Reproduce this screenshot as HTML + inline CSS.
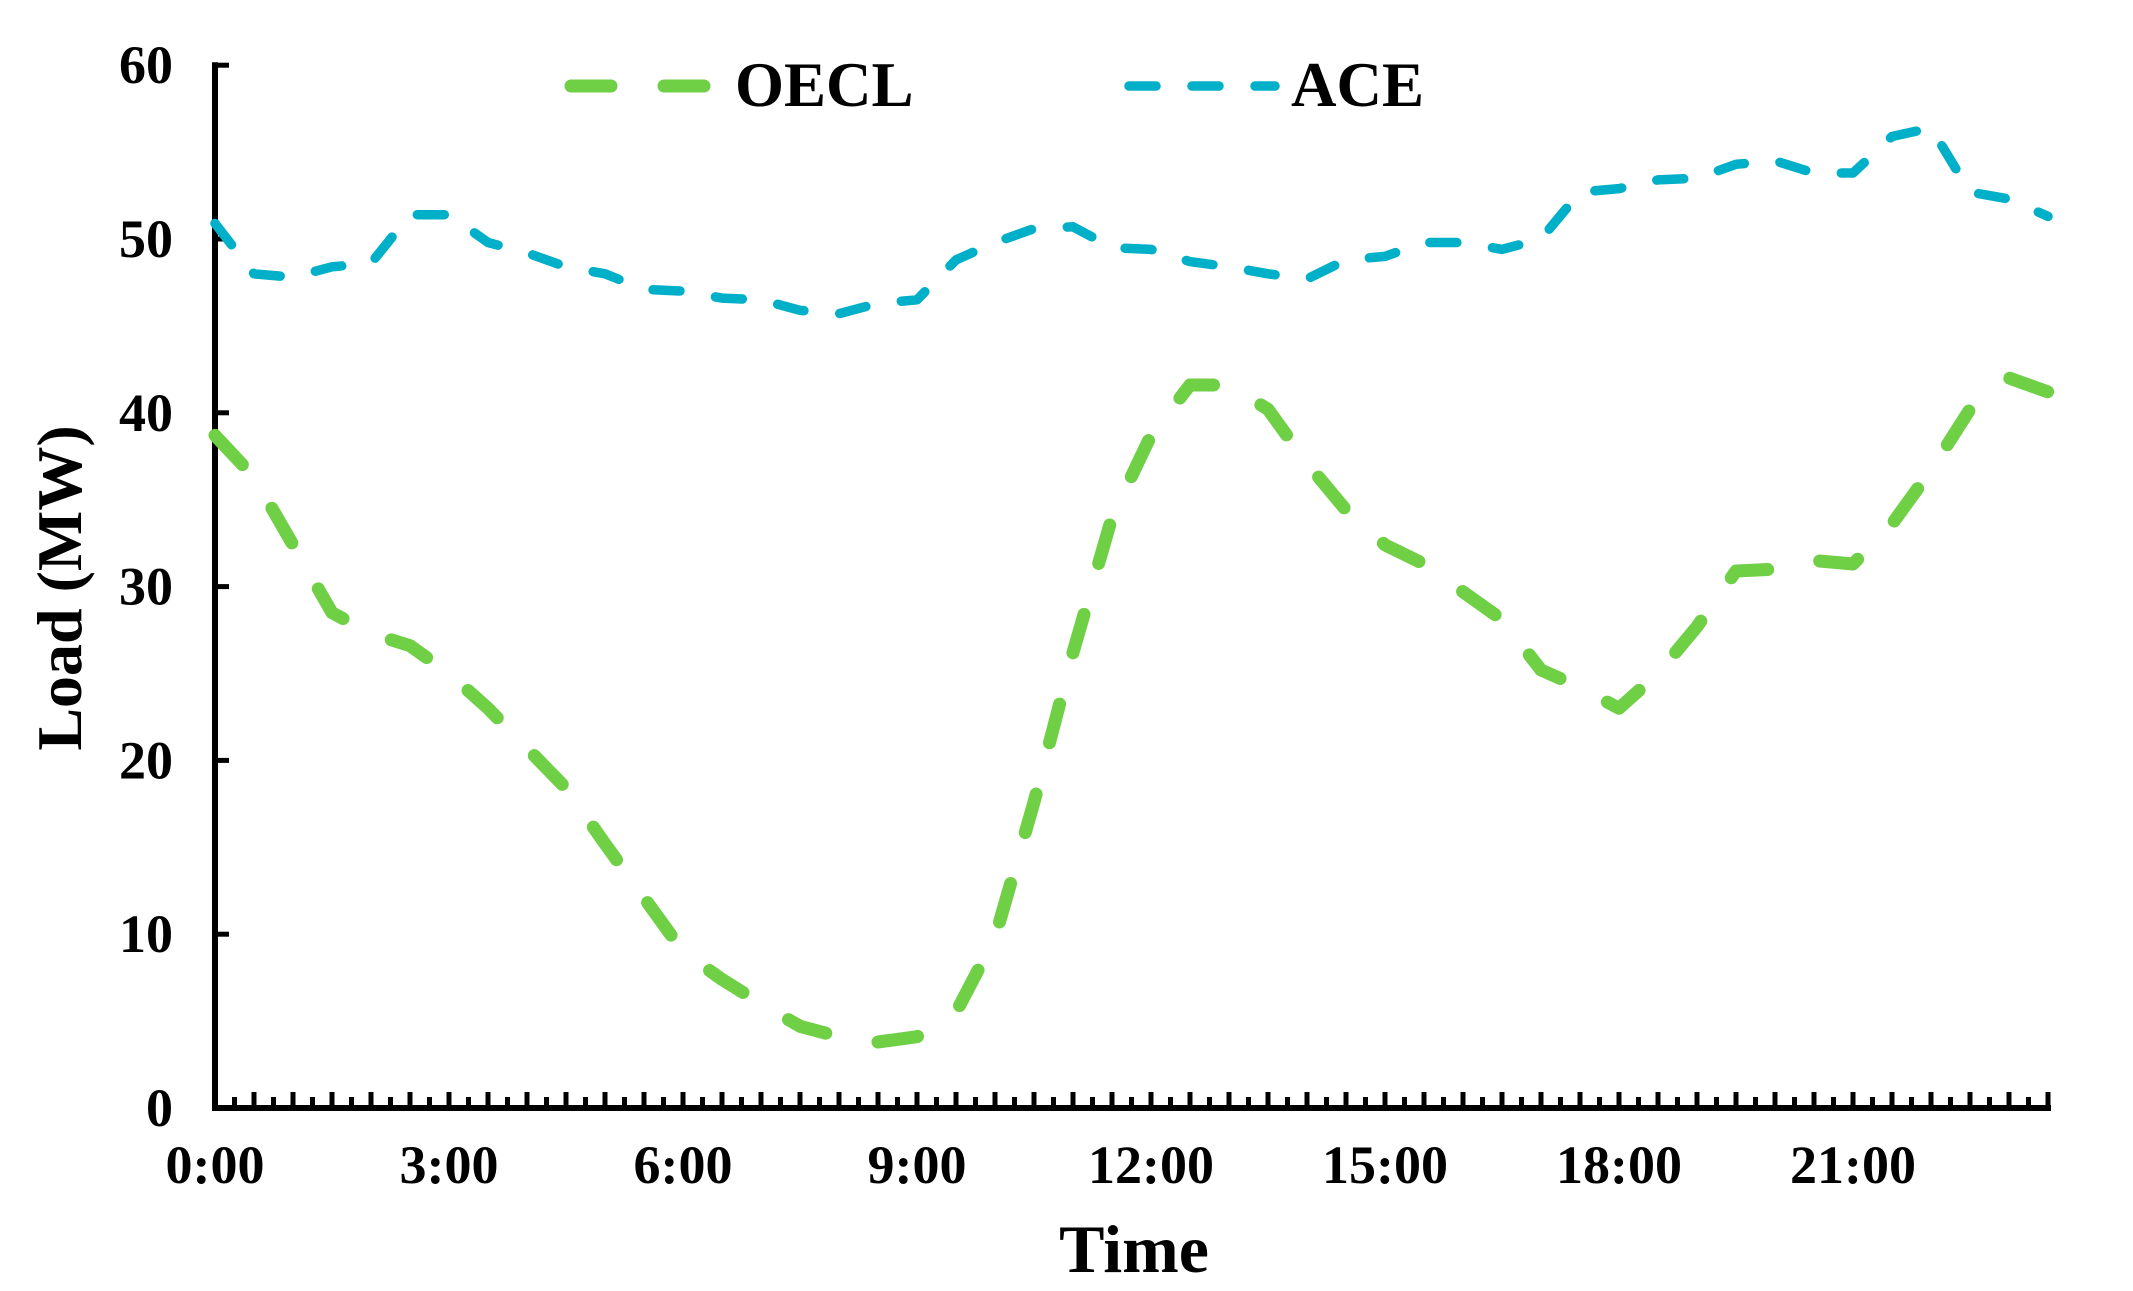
<!DOCTYPE html>
<html><head><meta charset="utf-8"><style>
html,body{margin:0;padding:0;background:#fff;}
svg{display:block;font-family:"Liberation Serif",serif;font-weight:bold;}
</style></head><body>
<svg id="chart" width="2133" height="1291" viewBox="0 0 2133 1291">
<g id="plot"></g>
</svg>
<script>
const hours = [0,0.5,1,1.5,2,2.5,3,3.5,4,4.5,5,5.5,6,6.5,7,7.5,8,8.5,9,9.5,10,10.5,11,11.5,12,12.5,13,13.5,14,14.5,15,15.5,16,16.5,17,17.5,18,18.5,19,19.5,20,20.5,21,21.5,22,22.5,23,23.5];
const oecl = [38.7,36.3,32.4,28.5,27.3,26.6,25,23,20.7,18.4,15.2,12.1,9,7.4,6,4.7,4.1,3.8,4.1,5.5,9.8,17.6,26.2,34,38.7,41.6,41.6,40.2,37.1,34.4,32.4,31.3,29.7,28.1,25.2,24.2,23,25,27.7,30.9,31,31.5,31.3,33.6,36.7,40.2,42,41.2];
const ace = [50.9,48,47.8,48.4,48.6,51.4,51.4,49.8,49.2,48.4,48,47.1,47,46.6,46.5,45.9,45.7,46.3,46.5,48.8,49.8,50.6,50.7,49.5,49.4,48.7,48.4,48,47.7,48.8,49,49.8,49.8,49.4,50,52.7,52.9,53.4,53.5,54.3,54.5,53.8,53.8,55.9,56.4,52.7,52.3,51.3];
const yTicks = [0,10,20,30,40,50,60];
const xTickHours = [0,3,6,9,12,15,18,21];
const xTickLabels = ["0:00","3:00","6:00","9:00","12:00","15:00","18:00","21:00"];

const X0=215, Y0=1108, PX_H=78, PX_10=173.8;
const xs = h => X0 + h*PX_H;
const ys = v => Y0 - v*PX_10/10;
const NS="http://www.w3.org/2000/svg";
const g=document.getElementById('plot');
function mk(tag,attrs,parent){const e=document.createElementNS(NS,tag);for(const k in attrs)e.setAttribute(k,attrs[k]);(parent||g).appendChild(e);return e;}

let e=mk('line',{x1:X0,y1:Y0,x2:xs(23.5)+3,y2:Y0,stroke:'#000','stroke-width':6});


e=mk('line',{x1:X0,y1:ys(60)-3,x2:X0,y2:Y0+3,stroke:'#000','stroke-width':6});



for(let i=1;i<=94;i++){
  const x=xs(i*0.25);
  const len = (i%2===0)?16:11;
  e=mk('line',{x1:x,y1:Y0,x2:x,y2:Y0-len,stroke:'#000','stroke-width':5});
  
  
}
yTicks.forEach(v=>{
  const y=ys(v);
  e=mk('line',{x1:X0,y1:y,x2:X0+14,y2:y,stroke:'#000','stroke-width':5});
  
  
  e=mk('text',{x:173,y:y+18,'text-anchor':'end','font-size':54});
  e.textContent=v;
  
  
});
xTickHours.forEach((h,i)=>{
  e=mk('text',{x:xs(h),y:1183,'text-anchor':'middle','font-size':54});
  e.textContent=xTickLabels[i];
  
  
});

function series(vals,color,w,dash,name){
  const d=vals.map((v,i)=>(i?'L':'M')+xs(hours[i]).toFixed(1)+' '+ys(v).toFixed(1)).join(' ');
  const p=mk('path',{d:d,fill:'none',stroke:color,'stroke-width':w,'stroke-dasharray':dash,'stroke-linecap':'round','stroke-linejoin':'round'});
  
  
}
series(oecl,'#6fcf45',13,'40 53','oecl-line');
series(ace,'#00afc8',9.5,'27 36','ace-line');

e=mk('line',{x1:571,y1:86,x2:704,y2:86,stroke:'#6fcf45','stroke-width':13,'stroke-dasharray':'40 53','stroke-linecap':'round'});


e=mk('text',{x:735,y:106,'font-size':63});
e.textContent='OECL';


e=mk('line',{x1:1129,y1:86,x2:1275,y2:86,stroke:'#00afc8','stroke-width':9.5,'stroke-dasharray':'27 36','stroke-linecap':'round'});


e=mk('text',{x:1291,y:106,'font-size':63});
e.textContent='ACE';



e=mk('text',{x:1134,y:1272,'text-anchor':'middle','font-size':68});
e.textContent='Time';


e=mk('text',{x:0,y:0,'text-anchor':'middle','font-size':64,transform:'translate(81,588) rotate(-90)'});
e.textContent='Load (MW)';


</script>
</body></html>
